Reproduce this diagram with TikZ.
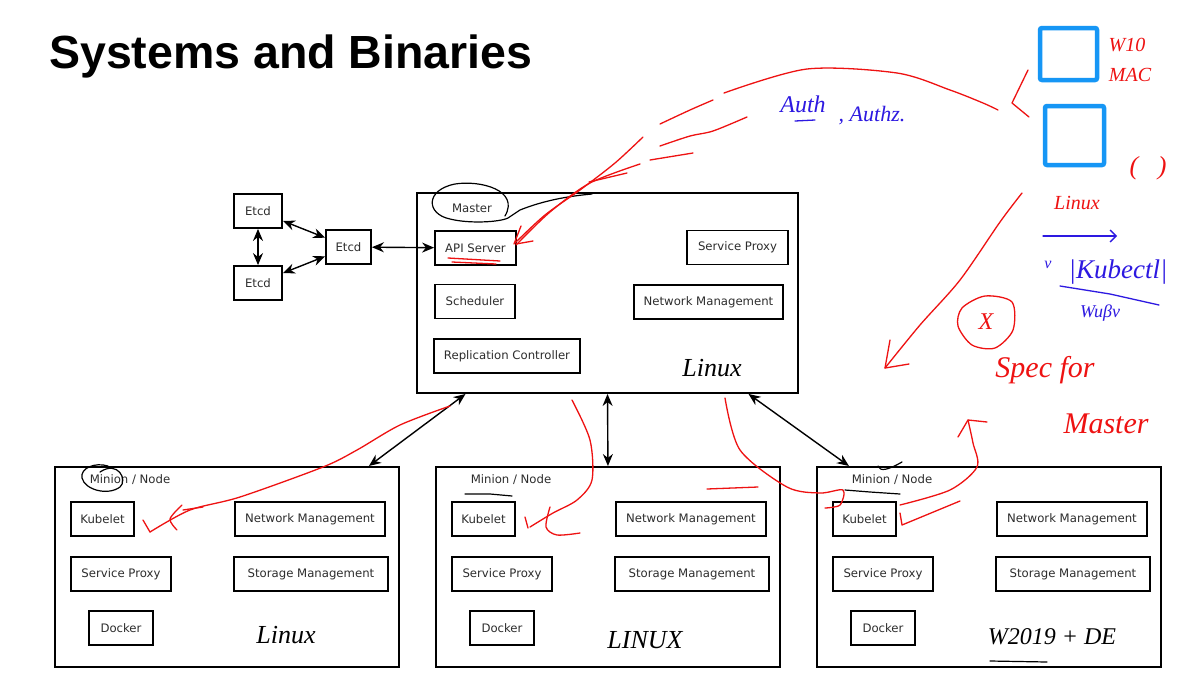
\documentclass[tikz,border=0pt]{standalone}
\usepackage{fontspec}
\setmainfont{DejaVu Sans}
\newfontfamily\titlefont{Liberation Sans}
\newfontfamily\handfont{Liberation Serif}
\usetikzlibrary{arrows.meta,calc}
\definecolor{boxtext}{RGB}{45,45,45}
\definecolor{penred}{RGB}{238,18,18}
\definecolor{penblue}{RGB}{45,25,225}
\definecolor{winblue}{RGB}{22,150,245}

\tikzset{
  box/.style={draw, line width=1.8pt, minimum height=34pt, inner sep=2pt,
    font=\fontsize{11.7}{13}\selectfont, text=boxtext},
  bigbox/.style={draw, line width=1.9pt, minimum height=200pt},
  lbl/.style={font=\fontsize{11.7}{13}\selectfont, text=boxtext, inner sep=1pt},
  link/.style={line width=1.4pt, {Stealth[length=12pt,width=10pt]}-{Stealth[length=12pt,width=10pt]}},
  redpen/.style={penred, line width=1.3pt, line cap=round, line join=round},
  bluepen/.style={penblue, line width=1.3pt, line cap=round, line join=round},
  blackpen/.style={line width=1.2pt, line cap=round, line join=round},
  hand/.style={font=\handfont\itshape\fontsize{#1}{#1}\selectfont, inner sep=0pt},
  winbox/.style={draw=winblue, line width=4.5pt, rounded corners=2pt}
}

\begin{document}
\begin{tikzpicture}[x=1pt,y=-1pt]
  \useasboundingbox[fill=white] (0,0) rectangle (1189,681);
  \node[anchor=base west, inner sep=0pt, font=\titlefont\bfseries\fontsize{46.5}{50}\selectfont] (title) at (49,68) {Systems and Binaries};

  % etcd cluster
  \node[box, minimum width=48pt] (etcd1) at (258,211) {Etcd};
  \node[box, minimum width=48pt] (etcd2) at (258,283) {Etcd};
  \node[box, minimum width=45pt] (etcd0) at (348.5,247) {Etcd};

  % master
  \node[bigbox, minimum width=381pt] (master) at (607.5,293) {};
  \node[lbl] (mastertag) at (472,208) {Master};
  \node[box, minimum width=81pt] (api) at (475.5,248) {API Server};
  \node[box, minimum width=101pt] (mproxy) at (737.5,247.5) {Service Proxy};
  \node[box, minimum width=80pt] (sched) at (475,301.5) {Scheduler};
  \node[box, minimum width=149pt] (mnet) at (708.5,302) {Network Management};
  \node[box, minimum width=146pt] (repl) at (507,356) {Replication Controller};

  \draw[link] (etcd1) -- (etcd2);
  \draw[link] (etcd1) -- (etcd0);
  \draw[link] (etcd2) -- (etcd0);
  \draw[link] (etcd0) -- (api);

  % minions
  \foreach \i/\x in {1/54,2/435,3/816} {
    \node[bigbox, minimum width=344pt, anchor=north west] (minion\i) at (\x,466) {};
    \node[lbl] (ntag\i) at (\x+76,480) {Minion / Node};
    \node[box, minimum width=63pt] (kubelet\i) at (\x+48.5,519) {Kubelet};
    \node[box, minimum width=150pt] (nnet\i) at (\x+256,519) {Network Management};
    \node[box, minimum width=100pt] (nproxy\i) at (\x+67,574) {Service Proxy};
    \node[box, minimum width=154pt] (store\i) at (\x+257,574) {Storage Management};
    \node[box, minimum width=64pt] (docker\i) at (\x+67,628) {Docker};
  }

  \draw[link] ([xshift=-142pt]master.south) -- ([xshift=142pt]minion1.north);
  \draw[link] (master.south) -- (minion2.north);
  \draw[link] ([xshift=141pt]master.south) -- ([xshift=-140pt]minion3.north);

  % black pen notes
  \draw[blackpen] (505,216) .. controls (520,190) and (480,180) .. (455,184)
    .. controls (425,190) and (426,214) .. (450,219) .. controls (470,224) and (500,222) .. (508,218)
    -- (520,210) .. controls (545,200) and (570,196) .. (592,194);
  \draw[blackpen] (100,472) .. controls (118,460) and (128,480) .. (120,487)
    .. controls (108,496) and (85,490) .. (82,478) .. controls (80,468) and (95,462) .. (108,466);
  \draw[blackpen] (465,494) -- (490,494) -- (512,496);
  \draw[blackpen] (845,490) -- (870,492) -- (900,494);
  \draw[blackpen] (878,466) .. controls (880,472) and (888,470) .. (902,462);
  \draw[blackpen] (990,661) -- (1047,662);
  \node[hand=26] (linuxm) at (712,368) {Linux};
  \node[hand=26] (linux1) at (286,635) {Linux};
  \node[hand=26] (linux2) at (645,640) {LINUX};
  \node[hand=24] (wintag) at (1052,637) {W2019 + DE};

  % red pen notes
  \draw[redpen] (448,258) -- (500,261) (452,262) -- (496,264);
  \draw[redpen] plot[smooth] coordinates {(515,243) (545,215) (580,190) (615,163) (643,137)};
  \draw[redpen] plot[smooth] coordinates {(660,124) (690,110) (713,100)};
  \draw[redpen] plot[smooth] coordinates {(724,93) (807,69) (897,73) (950,90) (983,103) (998,110)};
  \draw[redpen] plot[smooth] coordinates {(516,245) (550,212) (590,183) (640,164)};
  \draw[redpen] plot[smooth] coordinates {(650,160) (693,153)};
  \draw[redpen] plot[smooth] coordinates {(660,146) (690,136) (713,131) (747,117)};
  \draw[redpen] plot[smooth] coordinates {(589,182) (627,173)};
  \draw[redpen] (514,244) -- (521,226) (516,244) -- (533,241);
  \draw[redpen] (1028,70) -- (1012,103) -- (1029,117);
  \draw[redpen] plot[smooth] coordinates {(1022,193) (1000,222) (960,280) (920,325) (885,368)};
  \draw[redpen] (890,340) -- (885,368) -- (909,364);
  \draw[redpen] plot[smooth cycle] coordinates {(985,296) (1012,302) (1013,330) (995,348) (972,345) (958,326) (962,308)};
  \node[hand=24, text=penred] (xmark) at (986,322) {X};
  \node[hand=30, text=penred] (spec) at (1045,370) {Spec for};
  \node[hand=30, text=penred] (mastnote) at (1106,424) {Master};
  \node[hand=20, text=penred] (w10) at (1127,45) {W10};
  \node[hand=20, text=penred] (mac) at (1130,75) {MAC};
  \node[hand=26, text=penred] (parens) at (1148,168) {(\ \ \ )};
  \node[hand=20, text=penred] (redlinux) at (1077,203) {Linux};

  \draw[redpen] plot[smooth] coordinates {(450,406) (400,425) (357,450) (323,467) (240,497) (190,510) (150,532)};
  \draw[redpen] (143,520) -- (150,532);
  \draw[redpen] plot[smooth] coordinates {(182,505) (170,519) (177,530)};
  \draw[redpen] (183,510) -- (203,507);

  \draw[redpen] plot[smooth] coordinates {(572,400) (590,440) (592,480) (577,500) (553,513) (530,527)};
  \draw[redpen] (525,517) -- (528,528);
  \draw[redpen] plot[smooth] coordinates {(550,507) (546,527) (557,535) (580,533)};
  \draw[redpen] (707,489) -- (758,487);

  \draw[redpen] plot[smooth] coordinates {(725,398) (740,450) (787,487) (820,493) (843,490) (840,505) (825,508)};
  \draw[redpen] plot[smooth] coordinates {(900,505) (950,490) (977,467) (973,443) (968,420)};
  \draw[redpen] (958,437) -- (968,420) -- (987,422);
  \draw[redpen] (900,513) -- (902,525) -- (960,501);

  % blue pen notes
  \node[winbox, minimum width=57pt, minimum height=52pt] (winsq) at (1068.5,54) {};
  \node[winbox, minimum width=59pt, minimum height=59pt] (linsq) at (1074.5,135.5) {};
  \coordinate (kstart) at (1043,236);
  \coordinate (kend) at (1117,236);
  \draw[bluepen, -{Straight Barb[length=6pt]}] (kstart) -- (kend);
  \node[hand=16, text=penblue] (tick) at (1048,265) {v};
  \node[hand=27, text=penblue] (kubectl) at (1118,272) {|Kubectl|};
  \draw[bluepen] (1060,286) -- (1110,294) -- (1159,305);
  \node[hand=18, text=penblue] (wsub) at (1100,313) {Wuβv};
  \node[hand=24, text=penblue] (auth) at (803,104) {Auth};
  \draw[bluepen] (795,121) -- (815,120);
  \node[hand=22, text=penblue] (authz) at (872,116) {, Authz.};
\end{tikzpicture}
\end{document}
